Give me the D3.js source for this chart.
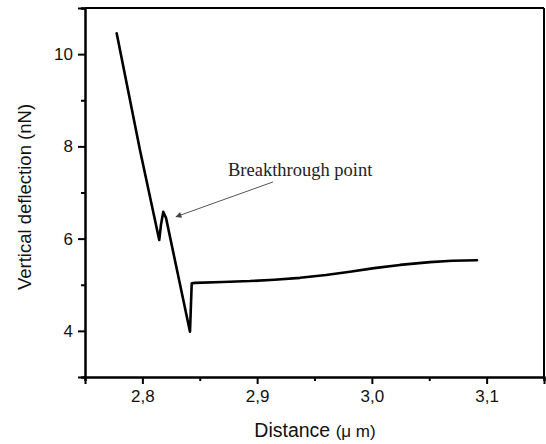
<!DOCTYPE html>
<html>
<head>
<meta charset="utf-8">
<script src="https://cdn.jsdelivr.net/npm/d3@7"></script>
<style>
  html, body { margin: 0; padding: 0; background: #fff; }
  svg { display: block; }
</style>
</head>
<body>
<svg id="chart" width="546" height="444"></svg>
<script>
// ---- data ----
const distance = [2.7776, 2.7979, 2.8147, 2.8162, 2.8182, 2.8206, 2.8415, 2.8430, 2.8459, 2.8700, 2.8938, 2.9150, 2.9374, 2.9600, 2.9809, 3.0020, 3.0245, 3.0506, 3.0700, 3.0916];
const deflection = [10.45, 7.92, 5.97, 6.30, 6.58, 6.45, 3.98, 5.03, 5.04, 5.06, 5.08, 5.11, 5.15, 5.21, 5.28, 5.36, 5.43, 5.49, 5.52, 5.53];
const xMajorTicks = [2.8, 2.9, 3.0, 3.1];
const xMinorTicks = [2.75, 2.85, 2.95, 3.05, 3.15];
const yMajorTicks = [4, 6, 8, 10];
const yMinorTicks = [3, 5, 7, 9, 11];
const xDomain = [2.75, 3.15];
const yDomain = [3, 11];
const annotationText = "Breakthrough point";
const annotationPoint = [2.8293, 6.475];  // where the arrow points
const annotationFrom = [2.9138, 7.228];   // arrow tail
const xLabel = "Distance ";
const xLabelUnit = "(\u03bc m)";
const yLabel = "Vertical deflection (nN)";

// ---- layout ----
const svg = d3.select("#chart");
const mLeft = 85, mRight = 544, mTop = 8, mBottom = 377;
const x = d3.scaleLinear().domain(xDomain).range([mLeft, mRight]);
const y = d3.scaleLinear().domain(yDomain).range([mBottom, mTop]);
const fmt = d => d3.format(".1f")(d).replace(".", ",");
const sans = "'Liberation Sans', Arial, sans-serif";

// frame (top + right)
svg.append("line").attr("x1", mLeft).attr("x2", mRight).attr("y1", mTop).attr("y2", mTop)
  .attr("stroke", "#000").attr("stroke-width", 2);
svg.append("line").attr("x1", mRight).attr("x2", mRight).attr("y1", mTop).attr("y2", mBottom)
  .attr("stroke", "#000").attr("stroke-width", 2);

// x axis
const gx = svg.append("g").attr("transform", `translate(0,${mBottom})`);
gx.call(d3.axisBottom(x).tickValues(xMinorTicks).tickSize(4).tickFormat(""));
gx.append("g").call(d3.axisBottom(x).tickValues(xMajorTicks).tickSize(7).tickPadding(6).tickFormat(fmt));
// y axis
const gy = svg.append("g").attr("transform", `translate(${mLeft},0)`);
gy.call(d3.axisLeft(y).tickValues(yMinorTicks).tickSize(4).tickFormat(""));
gy.append("g").call(d3.axisLeft(y).tickValues(yMajorTicks).tickSize(7).tickPadding(5).tickFormat(d3.format("d")));

svg.selectAll(".domain").attr("stroke", "#000").attr("stroke-width", 2);
svg.selectAll(".tick line").attr("stroke", "#000").attr("stroke-width", 2);
svg.selectAll(".tick text").attr("font-family", sans).attr("font-size", 17).attr("fill", "#111");

// curve
const line = d3.line().x((d, i) => x(distance[i])).y((d, i) => y(deflection[i]));
svg.append("path").datum(distance).attr("d", line)
  .attr("fill", "none").attr("stroke", "#000").attr("stroke-width", 2.6)
  .attr("stroke-linejoin", "round").attr("stroke-linecap", "round");

// annotation
const defs = svg.append("defs");
defs.append("marker").attr("id", "arrow").attr("viewBox", "0 0 10 10")
  .attr("refX", 9).attr("refY", 5).attr("markerWidth", 9).attr("markerHeight", 6)
  .attr("markerUnits", "userSpaceOnUse").attr("orient", "auto")
  .append("path").attr("d", "M0,0 L10,5 L0,10 Z").attr("fill", "#444");
svg.append("line")
  .attr("x1", x(annotationFrom[0])).attr("y1", y(annotationFrom[1]))
  .attr("x2", x(annotationPoint[0])).attr("y2", y(annotationPoint[1]))
  .attr("stroke", "#555").attr("stroke-width", 1).attr("marker-end", "url(#arrow)");
svg.append("text").attr("x", 228).attr("y", 176)
  .attr("font-family", "'Liberation Serif', 'Times New Roman', serif")
  .attr("font-size", 18.5).attr("fill", "#222").text(annotationText);

// axis labels
const xl = svg.append("text").attr("x", 315).attr("y", 437)
  .attr("text-anchor", "middle").attr("font-family", sans).attr("fill", "#111");
xl.append("tspan").attr("font-size", 19.5).text(xLabel);
xl.append("tspan").attr("font-size", 17).text(xLabelUnit);

svg.append("text").attr("transform", "translate(31,197) rotate(-90)")
  .attr("text-anchor", "middle").attr("font-family", sans).attr("font-size", 18.5)
  .attr("fill", "#111").text(yLabel);
</script>
</body>
</html>
